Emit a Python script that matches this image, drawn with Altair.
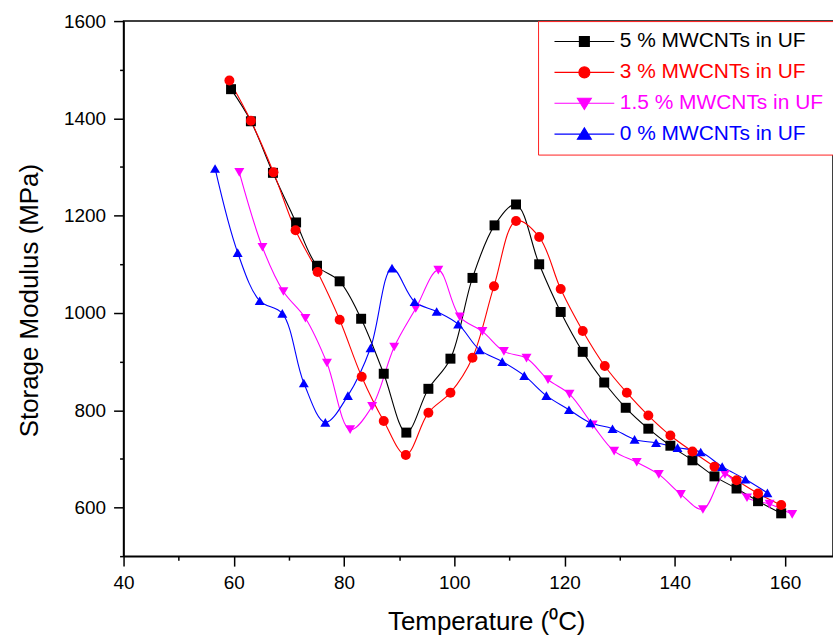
import altair as alt
import pandas as pd

series = ["5 % MWCNTs in UF", "3 % MWCNTs in UF", "1.5 % MWCNTs in UF", "0 % MWCNTs in UF"]
colors = ["#000000", "#ff0000", "#ff00ff", "#0000ff"]
shapes = ["square", "circle", "triangle-down", "triangle-up"]
sizes = [100, 100, 180, 180]

t_5 = [59.5, 63.1, 67.1, 71.3, 75.1, 79.2, 83.1, 87.2, 91.3, 95.3, 99.3, 103.3, 107.3,
       111.2, 115.4, 119.3, 123.3, 127.2, 131.1, 135.2, 139.2, 143.2, 147.2, 151.2, 155.1, 159.3]
e_5 = [1460, 1394, 1288, 1186, 1097, 1065, 988, 875, 754, 844, 906, 1072, 1180,
       1223, 1100, 1002, 920, 857, 805, 762, 727, 697, 664, 639, 613, 588]

t_3 = [59.2, 63.1, 67.2, 71.2, 75.2, 79.2, 83.2, 87.2, 91.2, 95.3, 99.3, 103.3, 107.2,
       111.2, 115.4, 119.3, 123.3, 127.3, 131.3, 135.2, 139.2, 143.2, 147.2, 151.2, 155.1, 159.3]
e_3 = [1478, 1395, 1289, 1170, 1084, 986, 869, 778, 708, 795, 836, 908, 1055,
       1189, 1156, 1049, 963, 891, 836, 789, 748, 715, 684, 656, 629, 605]

t_15 = [61.0, 65.2, 69.0, 73.0, 76.9, 81.1, 85.1, 89.1, 93.0, 97.1, 101.0, 105.1, 109.0,
        113.1, 117.0, 120.9, 125.1, 129.0, 133.1, 137.1, 141.1, 145.1, 149.1, 153.1, 157.2, 161.3]
e_15 = [1289, 1135, 1044, 989, 897, 760, 808, 930, 1009, 1088, 992, 962, 921,
        907, 863, 833, 770, 716, 693, 668, 627, 596, 668, 620, 607, 586]

t_0 = [56.6, 60.7, 64.7, 68.8, 72.7, 76.6, 80.7, 84.8, 88.7, 92.8, 96.8, 100.7, 104.6,
       108.7, 112.7, 116.7, 120.8, 124.7, 128.7, 132.7, 136.6, 140.5, 144.7, 148.6, 152.8, 156.8]
e_0 = [1297, 1124, 1025, 999, 856, 775, 830, 928, 1092, 1023, 1003, 977, 924,
       900, 871, 830, 801, 774, 762, 740, 733, 723, 714, 684, 658, 630]

x_ticks = list(range(40, 171, 10))
y_ticks = list(range(500, 1601, 100))

rows = []
for name, ts, es in zip(series, [t_5, t_3, t_15, t_0], [e_5, e_3, e_15, e_0]):
    for t, e in zip(ts, es):
        rows.append({"series": name, "T": t, "E": e})
df = pd.DataFrame(rows)

# marker-layer keys differ from the legend domain so the legends are not merged
pt_domain = ["pt:" + s for s in series]

# legend symbols: a line with the marker in its middle (custom SVG paths, unit = 6 px)
c = 4.33
l0, l1 = -0.67, 9.33


def f(v):
    return "%.2f" % v


marker_paths = [
    "M%s,-0.83H%sV0.83H%sZ" % (f(c - 0.83), f(c + 0.83), f(c - 0.83)),
    "M%s,0A0.92,0.92 0 1,0 %s,0A0.92,0.92 0 1,0 %s,0Z" % (f(c - 0.92), f(c + 0.92), f(c - 0.92)),
    "M%s,-0.85L%s,-0.85L%s,1.05Z" % (f(c - 1.17), f(c + 1.17), f(c)),
    "M%s,0.85L%s,0.85L%s,-1.05Z" % (f(c - 1.17), f(c + 1.17), f(c)),
]
line_path = "M%s,0H%s" % (f(l0), f(l1))
sym_expr = ""
for name, p in zip(series[:-1], marker_paths[:-1]):
    sym_expr += "datum.value === '%s' ? '%s%s' : " % (name, line_path, p)
sym_expr += "'%s%s'" % (line_path, marker_paths[-1])

color_scale = alt.Scale(domain=series, range=colors)

x_enc = alt.X(
    "T:Q",
    scale=alt.Scale(domain=[40, 168.7], nice=False, zero=False),
    axis=alt.Axis(
        values=x_ticks,
        labelExpr="datum.value % 20 === 0 ? datum.label : ''",
        tickSize={"condition": {"test": "datum.value % 20 === 0", "value": 10}, "value": 4},
        labelPadding=7,
        labelFlush=False,
        labelOverlap=False,
        title="Temperature (\u2070C)",
        titleX=364,
        titleY=74,
        titleAlign="center",
        titleBaseline="alphabetic",
    ),
)
y_enc = alt.Y(
    "E:Q",
    scale=alt.Scale(domain=[500, 1600], nice=False, zero=False),
    axis=alt.Axis(
        values=y_ticks,
        format="d",
        labelExpr="datum.value % 200 === 0 && datum.value >= 600 ? datum.label : ''",
        tickSize={"condition": {"test": "datum.value % 200 === 0 && datum.value >= 600", "value": 10}, "value": 4},
        labelPadding=8,
        labelFlush=False,
        labelOverlap=False,
        title="Storage Modulus (MPa)",
        titleX=-86,
        titleY=280,
        titleAngle=270,
        titleAlign="center",
        titleBaseline="alphabetic",
    ),
)

lines = alt.Chart(df).mark_line(strokeWidth=1.1, interpolate="catmull-rom").encode(
    x=x_enc,
    y=y_enc,
    color=alt.Color(
        "series:N",
        scale=color_scale,
        sort=series,
        legend=alt.Legend(
            title=None,
            orient="none",
            legendX=416,
            legendY=0,
            padding=10,
            rowPadding=9,
            strokeColor="#ff2020",
            fillColor="white",
            labelFont="Liberation Sans",
            labelFontSize=21,
            labelLimit=400,
            labelOffset=51,
            labelColor={"expr": "scale('color', datum.value)"},
            symbolType={"expr": sym_expr},
            symbolSize=144,
            symbolStrokeWidth=1.1,
            symbolStrokeColor={"expr": "scale('color', datum.value)"},
            symbolFillColor={"expr": "scale('color', datum.value)"},
        ),
    ),
    detail="series:N",
)

points = alt.Chart(df).transform_calculate(
    grp="'pt:' + datum.series"
).mark_point(filled=True, opacity=1, strokeWidth=0).encode(
    x="T:Q",
    y="E:Q",
    fill=alt.Fill("grp:N", scale=alt.Scale(domain=pt_domain, range=colors), legend=None),
    shape=alt.Shape("grp:N", scale=alt.Scale(domain=pt_domain, range=shapes), legend=None),
    size=alt.Size("grp:N", scale=alt.Scale(domain=pt_domain, range=sizes), legend=None),
)

chart = (
    alt.layer(lines, points)
    .properties(
        width=712,
        height=537,
        padding={"left": 124, "top": 20, "right": 0, "bottom": 82},
        autosize=alt.AutoSizeParams(type="none"),
        background="white",
    )
    .configure_view(stroke="black", strokeWidth=1.5)
    .configure_axis(
        grid=False,
        domainColor="black",
        domainWidth=1.5,
        tickColor="black",
        tickWidth=1.5,
        labelFont="Liberation Sans",
        labelFontSize=19,
        labelColor="black",
        titleFont="Liberation Sans",
        titleFontSize=26,
        titleFontWeight="normal",
        titleColor="black",
    )
)

chart.save("out.html", embed_options={"renderer": "svg", "actions": False})
